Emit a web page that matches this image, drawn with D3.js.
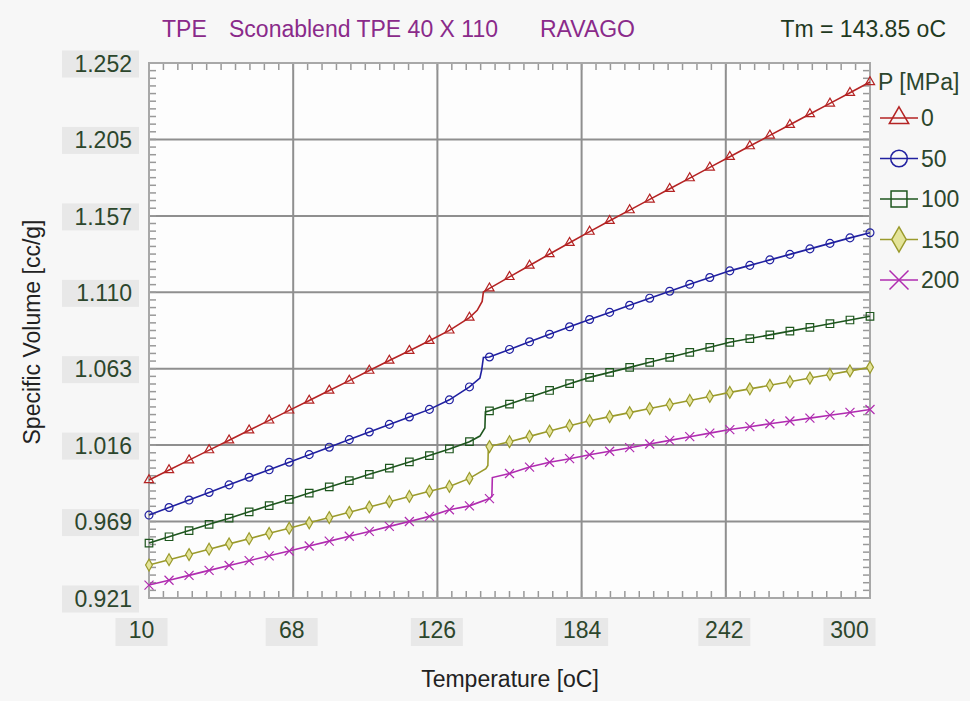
<!DOCTYPE html>
<html><head><meta charset="utf-8">
<script src="https://cdn.jsdelivr.net/npm/d3@7/dist/d3.min.js"></script>
<style>
body{margin:0;background:#f7f7f7;}
svg{display:block;font-family:"Liberation Sans",Arial,sans-serif;}
</style>
</head><body>
<svg id="chart" width="970" height="701"></svg>
<script>
// ---------- data ----------
const temps = [10, 18.06, 26.11, 34.17, 42.22, 50.28, 58.33, 66.39, 74.44, 82.5, 90.56, 98.61,
  106.67, 114.72, 122.78, 130.83, 138.89, 146.94, 155, 163.06, 171.11, 179.17, 187.22, 195.28,
  203.33, 211.39, 219.44, 227.5, 235.56, 243.61, 251.67, 259.72, 267.78, 275.83, 283.89, 291.94, 300];

const pressures = ["0", "50", "100", "150", "200"];

const v0   = [0.9940, 1.0002, 1.0063, 1.0125, 1.0186, 1.0248, 1.0309, 1.0371, 1.0432, 1.0494, 1.0555, 1.0617,
  1.0679, 1.0740, 1.0802, 1.0866, 1.0945, 1.1126, 1.1197, 1.1267, 1.1338, 1.1408, 1.1477, 1.1544,
  1.1610, 1.1676, 1.1742, 1.1808, 1.1874, 1.1940, 1.2006, 1.2072, 1.2138, 1.2204, 1.2270, 1.2336, 1.2402];
const v50  = [0.9723, 0.9770, 0.9816, 0.9863, 0.9910, 0.9957, 1.0003, 1.0050, 1.0097, 1.0143, 1.0190, 1.0237,
  1.0284, 1.0330, 1.0377, 1.0436, 1.0516, 1.0701, 1.0748, 1.0795, 1.0842, 1.0888, 1.0933, 1.0977,
  1.1021, 1.1065, 1.1108, 1.1151, 1.1193, 1.1234, 1.1268, 1.1302, 1.1336, 1.1370, 1.1404, 1.1438, 1.1470];
const v100 = [0.9550, 0.9589, 0.9627, 0.9666, 0.9704, 0.9743, 0.9782, 0.9820, 0.9859, 0.9897, 0.9936, 0.9975,
  1.0013, 1.0052, 1.0091, 1.0132, 1.0177, 1.0368, 1.0410, 1.0452, 1.0494, 1.0536, 1.0575, 1.0606,
  1.0637, 1.0668, 1.0699, 1.0730, 1.0761, 1.0792, 1.0815, 1.0838, 1.0861, 1.0884, 1.0907, 1.0930, 1.0953];
const v150 = [0.9414, 0.9447, 0.9479, 0.9512, 0.9545, 0.9577, 0.9610, 0.9642, 0.9675, 0.9708, 0.9740, 0.9773,
  0.9806, 0.9838, 0.9871, 0.9900, 0.9950, 1.0147, 1.0177, 1.0210, 1.0243, 1.0276, 1.0307, 1.0332,
  1.0357, 1.0382, 1.0407, 1.0432, 1.0457, 1.0482, 1.0504, 1.0526, 1.0548, 1.0571, 1.0593, 1.0615, 1.0637];
const v200 = [0.9290, 0.9320, 0.9350, 0.9381, 0.9411, 0.9441, 0.9471, 0.9501, 0.9532, 0.9562, 0.9592, 0.9622,
  0.9653, 0.9683, 0.9715, 0.9756, 0.9780, 0.9825, 0.9980, 1.0020, 1.0050, 1.0072, 1.0096, 1.0118,
  1.0140, 1.0163, 1.0185, 1.0208, 1.0230, 1.0252, 1.0270, 1.0288, 1.0305, 1.0323, 1.0341, 1.0358, 1.0376];

// extra points through the melting step (line only, no marker)
const stepT0   = [142.0, 144.0, 144.5];   const stepV0   = [1.0990, 1.1045, 1.1103];
const stepT50  = [143.1, 143.8, 144.5];   const stepV50  = [1.0571, 1.0620, 1.0698];
const stepT100 = [143.1, 145.1, 145.3];   const stepV100 = [1.0212, 1.0262, 1.0361];
const stepT150 = [145.5, 146.3, 146.5];   const stepV150 = [1.0010, 1.0030, 1.0144];
const stepT200 = [147.9, 148.1];          const stepV200 = [0.9838, 0.9955];

const yTickValues = [0.921, 0.9683, 1.0156, 1.0629, 1.1101, 1.1574, 1.2047, 1.252];
const yTickLabels = ["0.921", "0.969", "1.016", "1.063", "1.110", "1.157", "1.205", "1.252"];
const xTickValues = [10, 68, 126, 184, 242, 300];

const titleParts = ["TPE", "Sconablend TPE 40 X 110", "RAVAGO"];
const tmText = "Tm = 143.85 oC";

// ---------- setup ----------
const svg = d3.select("#chart");
const W = 970, H = 701;
const L = 149, R = 870, T = 63, B = 598;
const x = d3.scaleLinear().domain([10, 300]).range([L, R]);
const y = d3.scaleLinear().domain([0.921, 1.252]).range([B, T]);

const gridCol = "#8f8f8f", tickTxt = "#2c462c", boxCol = "#e8e8e8";
const FS = 23;

svg.append("rect").attr("width", W).attr("height", H).attr("fill", "#f7f7f7");
svg.append("rect").attr("x", L).attr("y", T).attr("width", R - L).attr("height", B - T).attr("fill", "#fdfdfd");

// title
const titleX = [162, 229, 540];
titleParts.forEach((t, i) => svg.append("text").attr("x", titleX[i]).attr("y", 37)
  .attr("fill", "#8a2a8a").attr("font-size", FS).text(t));
svg.append("text").attr("x", 946).attr("y", 37).attr("text-anchor", "end")
  .attr("fill", "#1f3a1f").attr("font-size", FS).text(tmText);

// major grid
svg.append("g").selectAll("line").data(xTickValues.slice(1, -1)).join("line")
  .attr("x1", d => x(d)).attr("x2", d => x(d)).attr("y1", T).attr("y2", B)
  .attr("stroke", gridCol).attr("stroke-width", 2);
svg.append("g").selectAll("line").data(yTickValues.slice(1, -1)).join("line")
  .attr("y1", d => y(d)).attr("y2", d => y(d)).attr("x1", L).attr("x2", R)
  .attr("stroke", gridCol).attr("stroke-width", 2);

// minor ticks (inside, all four sides)
const xMinor = d3.range(0, 51).map(i => 10 + i * 5.8);
const yMinor = d3.range(0, 71).map(i => 0.921 + i * 0.331 / 70);
const tk = svg.append("g").attr("stroke", "#999").attr("stroke-width", 1.5);
tk.selectAll(".xt").data(xMinor).join("line").attr("x1", d => x(d)).attr("x2", d => x(d))
  .attr("y1", T).attr("y2", T + 7);
tk.selectAll(".xb").data(xMinor).join("line").attr("x1", d => x(d)).attr("x2", d => x(d))
  .attr("y1", B).attr("y2", B - 7);
tk.selectAll(".yl").data(yMinor).join("line").attr("y1", d => y(d)).attr("y2", d => y(d))
  .attr("x1", L).attr("x2", L + 7);
tk.selectAll(".yr").data(yMinor).join("line").attr("y1", d => y(d)).attr("y2", d => y(d))
  .attr("x1", R).attr("x2", R - 7);

// frame
svg.append("rect").attr("x", L).attr("y", T).attr("width", R - L).attr("height", B - T)
  .attr("fill", "none").attr("stroke", "#a8a8a8").attr("stroke-width", 2);

// y axis labels
const yAxis = d3.axisLeft(y).tickValues(yTickValues).tickSize(0)
  .tickFormat((d, i) => yTickLabels[i]);
const gy = svg.append("g").attr("transform", `translate(${L - 17},0)`).call(yAxis);
gy.select(".domain").remove();
gy.selectAll(".tick").insert("rect", "text").attr("x", -70).attr("y", -13)
  .attr("width", 77).attr("height", 27).attr("fill", boxCol);
gy.selectAll(".tick text").attr("fill", tickTxt).attr("font-size", FS)
  .attr("font-family", "Liberation Sans, Arial, sans-serif").attr("x", 0).attr("dy", "0.36em");

// x axis labels
const xShift = [-8, -2, -1, 0, -2, -21];
const xAxis = d3.axisBottom(x).tickValues(xTickValues).tickSize(0).tickFormat(d3.format("d"));
const gx = svg.append("g").attr("transform", `translate(0,${B + 21})`).call(xAxis);
gx.select(".domain").remove();
gx.selectAll(".tick").insert("rect", "text").attr("x", (d, i) => xShift[i] - 26).attr("y", -1)
  .attr("width", 52).attr("height", 28).attr("fill", boxCol);
gx.selectAll(".tick text").attr("fill", tickTxt).attr("font-size", FS).attr("y", 3)
  .attr("dx", (d, i) => xShift[i])
  .attr("font-family", "Liberation Sans, Arial, sans-serif");

// axis titles
svg.append("text").attr("transform", "translate(40,332) rotate(-90)").attr("text-anchor", "middle")
  .attr("fill", "#222").attr("font-size", FS).text("Specific Volume [cc/g]");
svg.append("text").attr("x", 510).attr("y", 687).attr("text-anchor", "middle")
  .attr("fill", "#222").attr("font-size", FS).text("Temperature [oC]");

// ---------- series ----------
const series = [
  {name: pressures[0], vals: v0,   st: stepT0,   sv: stepV0,   color: "#b42323", sym: "tri",  fill: "none"},
  {name: pressures[1], vals: v50,  st: stepT50,  sv: stepV50,  color: "#2020a0", sym: "circ", fill: "none"},
  {name: pressures[2], vals: v100, st: stepT100, sv: stepV100, color: "#1e561e", sym: "sq",   fill: "none"},
  {name: pressures[3], vals: v150, st: stepT150, sv: stepV150, color: "#9a9a2c", sym: "dia",  fill: "#e4e49a"},
  {name: pressures[4], vals: v200, st: stepT200, sv: stepV200, color: "#b02cb0", sym: "x",    fill: "none"}
];

function symPath(sym, s) {
  if (sym === "tri") return d3.symbol().type(d3.symbolTriangle).size(s * s * 0.45)();
  if (sym === "circ") return d3.symbol().type(d3.symbolCircle).size(s * s * 0.6)();
  if (sym === "sq") return d3.symbol().type(d3.symbolSquare).size(s * s * 0.7)();
  if (sym === "dia") return d3.symbol().type(d3.symbolDiamond).size(s * s * 0.5)();
  const h = s / 2;
  return `M${-h},${-h}L${h},${h}M${-h},${h}L${h},${-h}`;
}

const line = d3.line().x(d => x(d[0])).y(d => y(d[1]));
const plot = svg.append("g");
series.forEach(s => {
  const pts = temps.map((t, i) => [t, s.vals[i]])
    .concat(s.st.map((t, i) => [t, s.sv[i]]))
    .sort((a, b) => a[0] - b[0]);
  plot.append("path").datum(pts).attr("d", line).attr("fill", "none")
    .attr("stroke", s.color).attr("stroke-width", 1.6);
  plot.append("g").selectAll("path").data(temps.map((t, i) => [t, s.vals[i]])).join("path")
    .attr("transform", d => `translate(${x(d[0])},${y(d[1])})`)
    .attr("d", symPath(s.sym, 9)).attr("fill", s.fill)
    .attr("stroke", s.color).attr("stroke-width", 1.2);
});

// ---------- legend ----------
const lg = svg.append("g");
lg.append("text").attr("x", 878).attr("y", 90).attr("fill", tickTxt).attr("font-size", FS).text("P [MPa]");
series.forEach((s, i) => {
  const yy = 118 + i * 40.5;
  lg.append("line").attr("x1", 880).attr("x2", 918).attr("y1", yy).attr("y2", yy)
    .attr("stroke", s.color).attr("stroke-width", 1.6);
  lg.append("path").attr("transform", `translate(899,${yy})`).attr("d", symPath(s.sym, 19))
    .attr("fill", s.fill).attr("stroke", s.color).attr("stroke-width", 1.5);
  lg.append("text").attr("x", 921).attr("y", yy + 8).attr("fill", tickTxt).attr("font-size", FS).text(s.name);
});
</script>
</body></html>
